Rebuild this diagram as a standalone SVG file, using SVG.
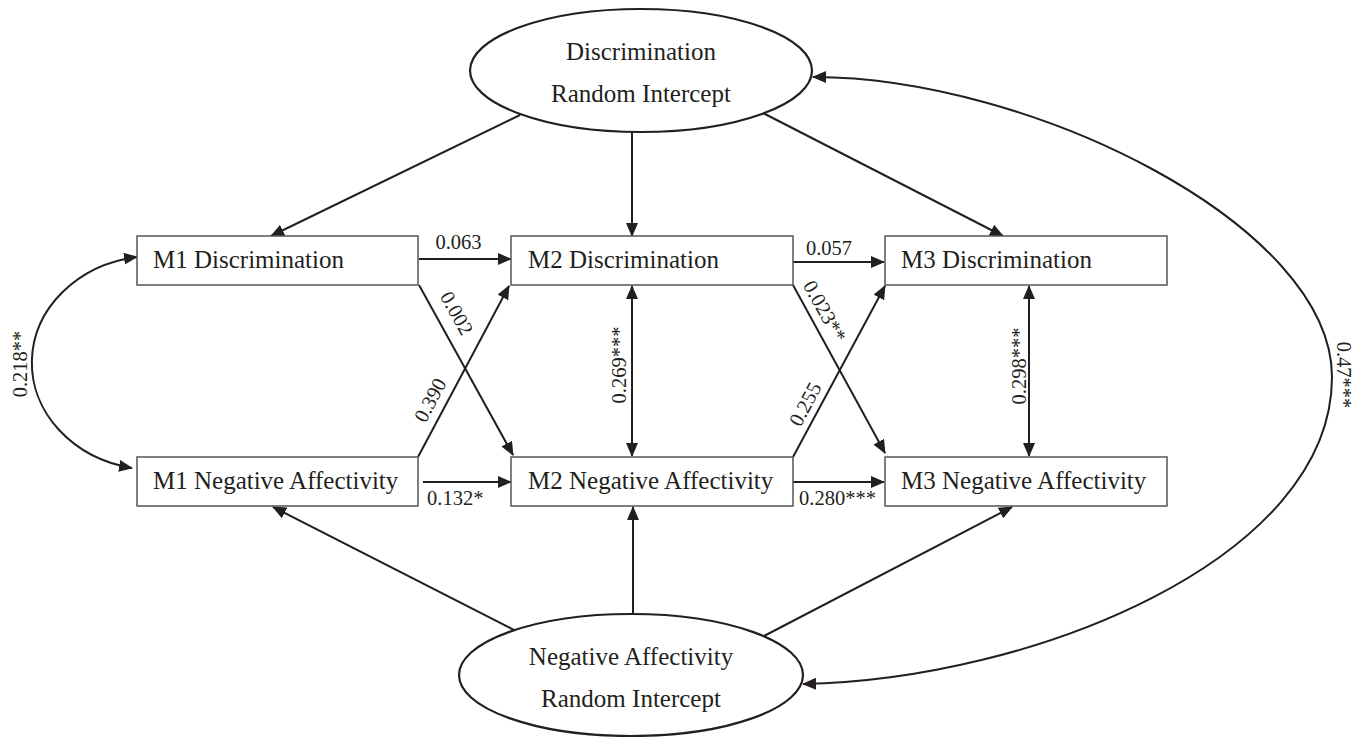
<svg xmlns="http://www.w3.org/2000/svg" width="1367" height="737" viewBox="0 0 1367 737">
<style>
  .box { fill: #fff; stroke: #555; stroke-width: 1.5; }
  .ell { fill: #fff; stroke: #231f20; stroke-width: 2.2; }
  .ntext { font-family: "Liberation Serif", "Times New Roman", serif; font-size: 25px; fill: #231f20; }
  .lbl { font-family: "Liberation Serif", "Times New Roman", serif; font-size: 20.5px; fill: #231f20; }
  .edge { fill: none; stroke: #231f20; stroke-width: 2; marker-end: url(#ah); }
  .dbl { fill: none; stroke: #231f20; stroke-width: 2; marker-end: url(#ah); marker-start: url(#ah); }
</style>
<defs>
  <marker id="ah" markerUnits="userSpaceOnUse" markerWidth="14" markerHeight="12" refX="13" refY="6" orient="auto-start-reverse">
    <path d="M0,0 L14,6 L0,12 z" fill="#231f20"/>
  </marker>
</defs>
<rect width="1367" height="737" fill="#fff"/>

<g id="connectors">
  <!-- random intercept loadings -->
  <line class="edge" x1="520" y1="115" x2="271" y2="236"/>
  <line class="edge" x1="632" y1="132" x2="632" y2="236"/>
  <line class="edge" x1="763" y1="113" x2="1003" y2="236"/>
  <line class="edge" x1="514" y1="630" x2="273" y2="507"/>
  <line class="edge" x1="633" y1="613" x2="633" y2="507"/>
  <line class="edge" x1="764" y1="636" x2="1012" y2="507"/>
  <!-- autoregressive -->
  <line class="edge" x1="419" y1="259" x2="511" y2="259"/>
  <line class="edge" x1="793" y1="262" x2="884" y2="262"/>
  <line class="edge" x1="423" y1="482" x2="511" y2="482"/>
  <line class="edge" x1="793" y1="482" x2="884" y2="482"/>
  <!-- cross-lagged -->
  <line class="edge" x1="419" y1="285" x2="513" y2="455"/>
  <line class="edge" x1="418" y1="457" x2="509" y2="286"/>
  <line class="edge" x1="793" y1="285" x2="885" y2="453"/>
  <line class="edge" x1="793" y1="457" x2="885" y2="286"/>
  <!-- within-time covariances -->
  <line class="dbl" x1="632" y1="286" x2="632" y2="456"/>
  <line class="dbl" x1="1029" y1="286" x2="1029" y2="456"/>
  <path class="dbl" d="M 132 468 A 123 107 0 0 1 137 257"/>
  <!-- random intercept covariance -->
  <path class="dbl" d="M 803 684 C 1030 680, 1332 560, 1332 377 C 1332 225, 1030 77, 813 77"/>

  <!-- labels -->
  <text class="lbl" x="458.5" y="249" text-anchor="middle">0.063</text>
  <text class="lbl" x="829" y="255" text-anchor="middle">0.057</text>
  <text class="lbl" x="427" y="505">0.132*</text>
  <text class="lbl" x="799" y="505">0.280***</text>
  <text class="lbl" x="457" y="313" dy="0.35em" text-anchor="middle" transform="rotate(61 457 313)">0.002</text>
  <text class="lbl" x="430" y="400" dy="0.35em" text-anchor="middle" transform="rotate(-62 430 400)">0.390</text>
  <text class="lbl" x="825" y="311" dy="0.35em" text-anchor="middle" transform="rotate(61 825 311)">0.023**</text>
  <text class="lbl" x="805" y="404" dy="0.35em" text-anchor="middle" transform="rotate(-62 805 404)">0.255</text>
  <text class="lbl" x="626" y="365" text-anchor="middle" transform="rotate(-90 626 365)">0.269***</text>
  <text class="lbl" x="1026" y="366" text-anchor="middle" transform="rotate(-90 1026 366)">0.298***</text>
  <text class="lbl" x="27" y="364" text-anchor="middle" transform="rotate(-90 27 364)">0.218**</text>
  <text class="lbl" x="1337" y="375" text-anchor="middle" transform="rotate(90 1337 375)">0.47***</text>
</g>

<g id="n-disc-ri">
  <ellipse class="ell" cx="641" cy="70.5" rx="171" ry="61.5"/>
  <text class="ntext" x="641" y="60" text-anchor="middle">Discrimination</text>
  <text class="ntext" x="641" y="102" text-anchor="middle">Random Intercept</text>
</g>
<g id="n-m1d">
  <rect class="box" x="137" y="236" width="281" height="49"/>
  <text class="ntext" x="153" y="268">M1 Discrimination</text>
</g>
<g id="n-m2d">
  <rect class="box" x="511" y="236" width="282" height="49"/>
  <text class="ntext" x="528" y="268">M2 Discrimination</text>
</g>
<g id="n-m3d">
  <rect class="box" x="885" y="236" width="282" height="49"/>
  <text class="ntext" x="901" y="268">M3 Discrimination</text>
</g>
<g id="n-m1na">
  <rect class="box" x="137" y="457" width="281" height="49"/>
  <text class="ntext" x="153" y="489">M1 Negative Affectivity</text>
</g>
<g id="n-m2na">
  <rect class="box" x="511" y="457" width="282" height="49"/>
  <text class="ntext" x="528" y="489">M2 Negative Affectivity</text>
</g>
<g id="n-m3na">
  <rect class="box" x="885" y="457" width="282" height="49"/>
  <text class="ntext" x="901" y="489">M3 Negative Affectivity</text>
</g>
<g id="n-na-ri">
  <ellipse class="ell" cx="631" cy="675" rx="172" ry="61"/>
  <text class="ntext" x="631" y="665" text-anchor="middle">Negative Affectivity</text>
  <text class="ntext" x="631" y="707" text-anchor="middle">Random Intercept</text>
</g>
</svg>
